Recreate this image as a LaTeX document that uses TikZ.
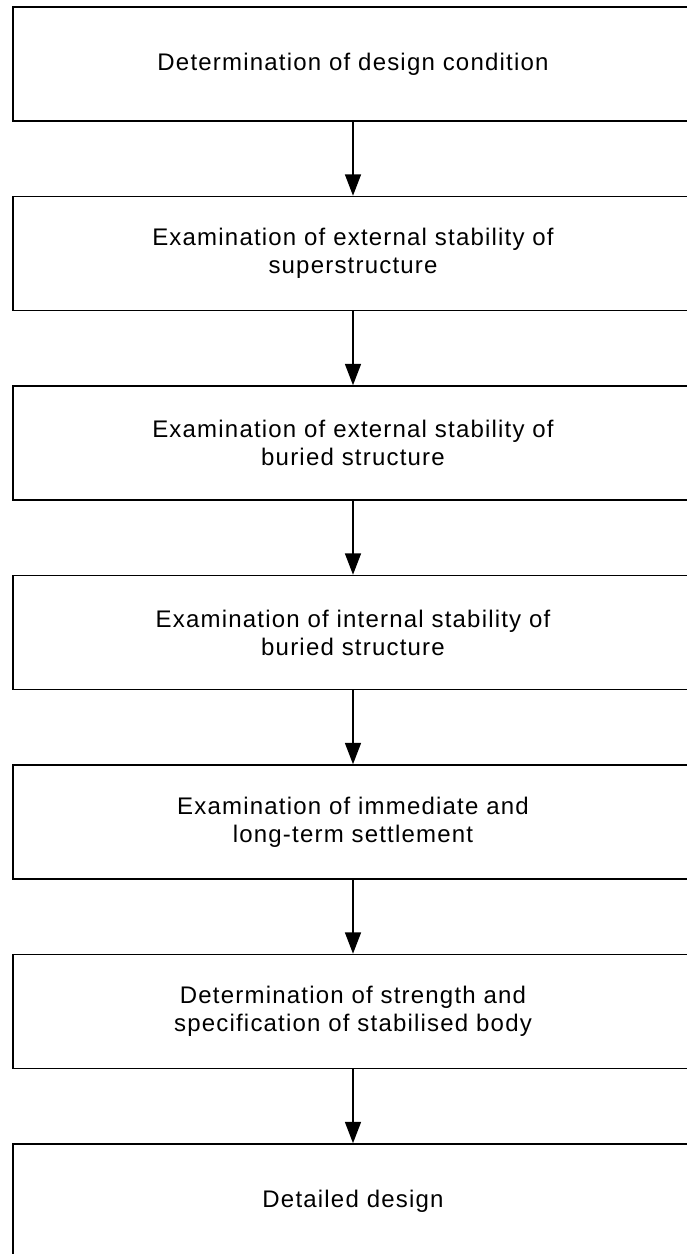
\documentclass[tikz,border=0pt]{standalone}
\usepackage{fontspec}
\setmainfont[LetterSpace=5]{Liberation Sans}
\usetikzlibrary{arrows.meta}

\begin{document}
\begin{tikzpicture}[x=0.75pt, y=-0.75pt,
    stage/.style={draw, line width=1.2pt, rectangle, minimum width=510pt,
      minimum height=85.5pt, align=center, inner sep=0pt,
      font=\fontsize{18}{21}\selectfont},
    flow/.style={line width=1.1pt, -{Triangle[length=16pt, width=12pt]}}]
  \useasboundingbox (0,0) rectangle (686,1254);

  \node [stage] (cond) at (353,64) {Determination of design condition};
  \node [stage] (super) at (353,253.5) {Examination of external stability of\\superstructure};
  \node [stage] (buried) at (353,443) {Examination of external stability of\\buried structure};
  \node [stage] (internal) at (353,632.5) {Examination of internal stability of\\buried structure};
  \node [stage] (settle) at (353,822) {Examination of immediate and\\long-term settlement};
  \node [stage] (strength) at (353,1011.5) {Determination of strength and\\specification of stabilised body};
  \node [stage] (detail) at (353,1201) {Detailed design};

  \draw [flow] (cond) -- (super);
  \draw [flow] (super) -- (buried);
  \draw [flow] (buried) -- (internal);
  \draw [flow] (internal) -- (settle);
  \draw [flow] (settle) -- (strength);
  \draw [flow] (strength) -- (detail);
\end{tikzpicture}
\end{document}
